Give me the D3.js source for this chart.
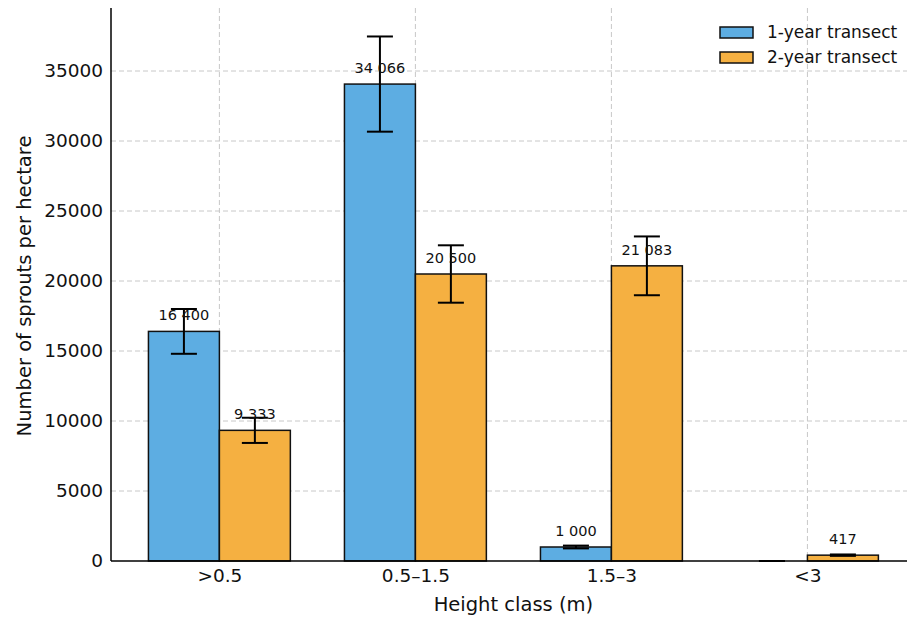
<!DOCTYPE html>
<html><head><meta charset="utf-8">
<script src="https://cdn.jsdelivr.net/npm/d3@7"></script>
<style>body{margin:0;background:#fff}svg{display:block}text{font-family:"DejaVu Sans",sans-serif;fill:#111}</style>
</head><body><svg id="c" width="907" height="617"></svg>
<script>
const categories = [">0.5", "0.5–1.5", "1.5–3", "<3"];
const series = ["1-year transect", "2-year transect"];
const oneYear = [16400, 34066, 1000, 0];
const twoYear = [9333, 20500, 21083, 417];
const oneYearErr = [1600, 3400, 100, 0];
const twoYearErr = [900, 2050, 2100, 50];
const oneYearLabels = ["16 400", "34 066", "1 000", null];
const twoYearLabels = ["9 333", "20 500", "21 083", "417"];
const yTicks = [0, 5000, 10000, 15000, 20000, 25000, 30000, 35000];
const colors = ["#5DADE2", "#F5B041"];

const svg = d3.select("#c");
const L = 111, B = 561, T = 8, R = 907;
const x = d3.scaleLinear().domain([-0.553, 3.508]).range([L, R]);
const y = d3.scaleLinear().domain([0, 39500]).range([B, T]);
const bw = 0.362;

// grid
const g = svg.append("g");
g.selectAll(".hg").data(yTicks.slice(1)).join("line")
  .attr("x1", L).attr("x2", R).attr("y1", d => y(d)).attr("y2", d => y(d))
  .attr("stroke", "#c8c8c8").attr("stroke-dasharray", "5,3").attr("stroke-width", 1);
g.selectAll(".vg").data(categories).join("line")
  .attr("x1", (d,i) => x(i)).attr("x2", (d,i) => x(i)).attr("y1", T).attr("y2", B)
  .attr("stroke", "#c8c8c8").attr("stroke-dasharray", "5,3").attr("stroke-width", 1);

const data = [
  {vals: oneYear, errs: oneYearErr, labels: oneYearLabels, off: -bw/2},
  {vals: twoYear, errs: twoYearErr, labels: twoYearLabels, off: bw/2}
];
data.forEach((s, si) => {
  const gg = svg.append("g");
  gg.selectAll("rect").data(s.vals).join("rect")
    .attr("x", (d,i) => x(i + s.off - bw/2)).attr("width", x(bw) - x(0))
    .attr("y", d => y(d)).attr("height", d => B - y(d))
    .attr("fill", colors[si]).attr("stroke", "#111").attr("stroke-width", 1.5);
});
data.forEach((s, si) => {
  const gg = svg.append("g");
  s.vals.forEach((v, i) => {
    const cx = x(i + s.off), e = s.errs[i];
    gg.append("line").attr("x1", cx).attr("x2", cx).attr("y1", y(v+e)).attr("y2", y(v-e)).attr("stroke","#000").attr("stroke-width",2);
    [v+e, v-e].forEach(t => gg.append("line").attr("x1", cx-13).attr("x2", cx+13).attr("y1", y(t)).attr("y2", y(t)).attr("stroke","#000").attr("stroke-width",2));
    if (s.labels[i]) gg.append("text").attr("x", cx).attr("y", y(v) - 11).attr("text-anchor","middle")
      .attr("font-size", 14.5).text(s.labels[i]);
  });
});

// axes
const ya = svg.append("g").attr("transform", `translate(${L},0)`)
  .call(d3.axisLeft(y).tickValues(yTicks).tickFormat(d3.format("d")).tickSize(0).tickPadding(8));
ya.select(".domain").attr("d", `M0,${T}V${B}`).attr("stroke","#000").attr("stroke-width",1.5);
ya.selectAll("text").attr("font-size", 18.5).attr("font-family","DejaVu Sans").attr("fill","#111");
const xa = svg.append("g").attr("transform", `translate(0,${B})`)
  .call(d3.axisBottom(x).tickValues([0,1,2,3]).tickFormat(i => categories[i]).tickSize(0).tickPadding(8));
xa.select(".domain").attr("d", `M${L},0H${R}`).attr("stroke","#000").attr("stroke-width",1.5);
xa.selectAll("text").attr("font-size", 18.5).attr("font-family","DejaVu Sans").attr("fill","#111");

svg.append("text").attr("x", x(1.5)).attr("y", 611).attr("text-anchor","middle").attr("font-size",19.5).text("Height class (m)");
svg.append("text").attr("transform", `translate(31,286) rotate(-90)`).attr("text-anchor","middle").attr("font-size",19.5).text("Number of sprouts per hectare");

// legend
const lg = svg.append("g");
series.forEach((s, i) => {
  lg.append("rect").attr("x", 720).attr("y", 27 + i*25).attr("width", 33).attr("height", 11)
    .attr("fill", colors[i]).attr("stroke","#111").attr("stroke-width",1.5);
  lg.append("text").attr("x", 767).attr("y", 38 + i*25).attr("font-size", 17).text(s);
});
</script></body></html>
